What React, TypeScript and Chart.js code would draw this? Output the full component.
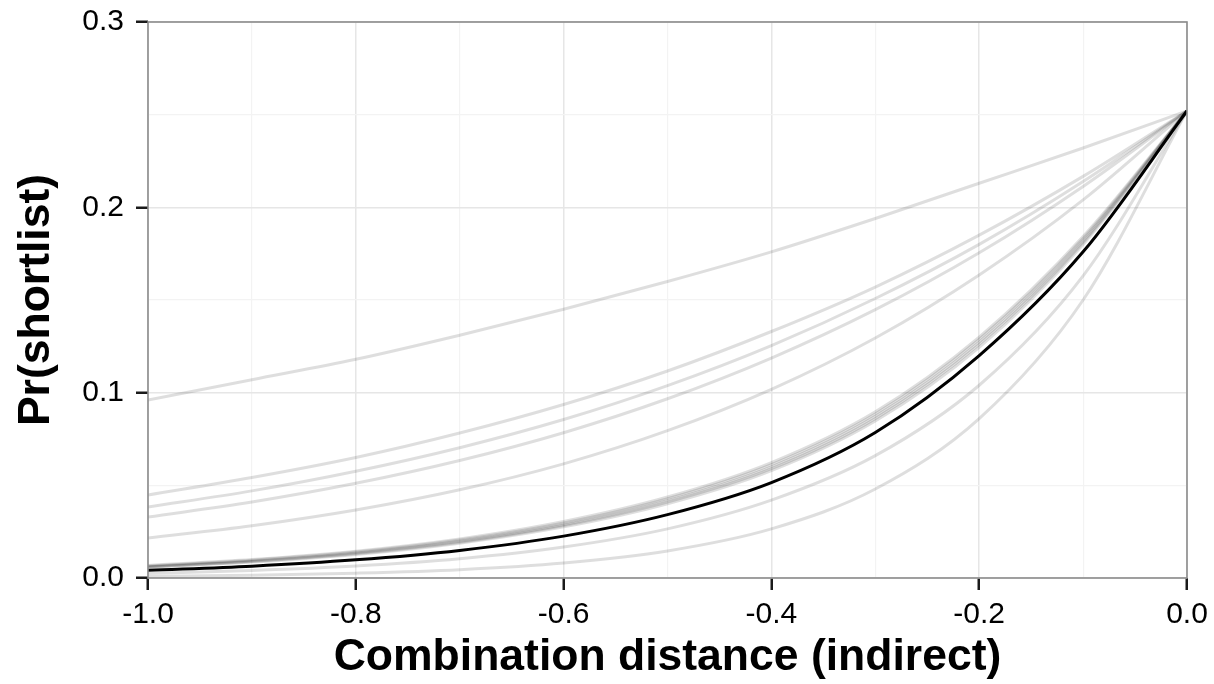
import React, { useEffect, useRef } from "react";
import { Chart, registerables } from "chart.js";

Chart.register(...registerables);

const xValues = [-1.0, -0.9, -0.8, -0.7, -0.6, -0.5, -0.4, -0.3, -0.2, -0.1, 0.0];

// Highlighted (black) curve
const mainCurve = [0.0042, 0.0064, 0.0098, 0.0149, 0.0226, 0.0342, 0.0515, 0.0785, 0.120, 0.176, 0.252];

// Grey curves
const greyTop = [0.096, 0.107, 0.118, 0.131, 0.145, 0.160, 0.176, 0.194, 0.213, 0.232, 0.252];
const greyB = [0.0448, 0.0542, 0.065, 0.0782, 0.0936, 0.1117, 0.133, 0.157, 0.185, 0.2167, 0.252];
const greyC = [0.0383, 0.047, 0.0576, 0.0703, 0.0855, 0.1038, 0.1254, 0.1508, 0.180, 0.2139, 0.252];
const greyD = [0.0329, 0.041, 0.0511, 0.0634, 0.0784, 0.0967, 0.1187, 0.1448, 0.1755, 0.2113, 0.252];
const greyE = [0.0216, 0.0282, 0.0367, 0.0476, 0.0616, 0.0795, 0.1018, 0.1295, 0.1635, 0.204, 0.252];
const bundle1 = [0.0058, 0.0086, 0.0127, 0.0188, 0.0276, 0.0401, 0.058, 0.0848, 0.1245, 0.18, 0.252];
const bundle2 = [0.006, 0.0089, 0.0131, 0.0193, 0.0283, 0.041, 0.059, 0.086, 0.126, 0.181, 0.252];
const bundle3 = [0.0062, 0.0092, 0.0135, 0.0198, 0.0289, 0.0418, 0.06, 0.0872, 0.1273, 0.182, 0.252];
const bundle4 = [0.0065, 0.0096, 0.014, 0.0205, 0.0297, 0.0428, 0.0612, 0.0885, 0.1288, 0.1832, 0.252];
const bundle5 = [0.0068, 0.01, 0.0145, 0.0211, 0.0305, 0.0437, 0.0623, 0.0897, 0.13, 0.1842, 0.252];
const greyF = [0.0025, 0.0041, 0.0065, 0.0104, 0.0167, 0.0265, 0.042, 0.066, 0.104, 0.163, 0.252];
const greyG = [0.0009, 0.0015, 0.0026, 0.0045, 0.0081, 0.0146, 0.0265, 0.048, 0.086, 0.15, 0.252];

const greySeries = [greyTop, greyB, greyC, greyD, greyE, bundle1, bundle2, bundle3, bundle4, bundle5, greyF, greyG];

const xTitle = "Combination distance (indirect)";
const yTitle = "Pr(shortlist)";

const FONT = "'Liberation Sans', Arial, Helvetica, sans-serif";

const toPoints = (vals: number[]) => xValues.map((x, i) => ({ x, y: vals[i] }));

const panelBorder = {
  id: "panelBorder",
  afterDatasetsDraw(chart: any) {
    const { ctx, chartArea } = chart;
    const { left, top, right, bottom } = chartArea;
    ctx.save();
    ctx.strokeStyle = "#8c8c8c";
    ctx.lineWidth = 1.6;
    ctx.strokeRect(left, top, right - left, bottom - top);
    ctx.restore();
  },
};

const isMajorX = (v: number) => Math.round(v * 10) % 2 === 0;
const isMajorY = (v: number) => Math.round(v * 100) % 10 === 0;
const fmt = (v: number) => (Math.abs(v) < 1e-9 ? "0.0" : v.toFixed(1));

export default function App() {
  const ref = useRef<HTMLCanvasElement | null>(null);

  useEffect(() => {
    if (!ref.current) return;
    const datasets: any[] = [
      {
        data: toPoints(mainCurve),
        borderColor: "#000000",
        borderWidth: 3,
        pointRadius: 0,
        cubicInterpolationMode: "monotone",
      },
      ...greySeries.map((s) => ({
        data: toPoints(s),
        borderColor: "rgba(0,0,0,0.13)",
        borderWidth: 3,
        pointRadius: 0,
        cubicInterpolationMode: "monotone",
      })),
    ];

    const chart = new Chart(ref.current, {
      type: "line",
      data: { datasets },
      options: {
        animation: false,
        responsive: false,
        events: [],
        layout: { padding: { left: 0, top: 22, right: 27, bottom: 0 } },
        plugins: { legend: { display: false }, tooltip: { enabled: false } },
        scales: {
          x: {
            type: "linear",
            min: -1,
            max: 0,
            afterFit: (scale: any) => {
              scale.height = 106;
              scale.paddingLeft = 0;
              scale.paddingRight = 0;
            },
            border: { display: false },
            grid: {
              color: (c: any) => (isMajorX(c.tick.value) ? "#e6e6e6" : "#f3f3f3"),
              lineWidth: (c: any) => (isMajorX(c.tick.value) ? 1.5 : 1.2),
              tickColor: (c: any) => (isMajorX(c.tick.value) ? "#1a1a1a" : "rgba(0,0,0,0)"),
              tickWidth: 2.5,
              tickLength: 12,
            },
            ticks: {
              stepSize: 0.1,
              autoSkip: false,
              maxRotation: 0,
              padding: 7,
              color: "#000000",
              font: { family: FONT, size: 30 },
              callback: (v: any) => (isMajorX(Number(v)) ? fmt(Number(v)) : ""),
            },
            title: {
              display: true,
              text: xTitle,
              color: "#000000",
              font: { family: FONT, size: 44.5, weight: "bold" },
              padding: { top: 0, bottom: 0 },
            },
          },
          y: {
            type: "linear",
            min: 0,
            max: 0.3,
            afterFit: (scale: any) => {
              scale.width = 148;
              scale.paddingTop = 0;
              scale.paddingBottom = 0;
            },
            border: { display: false },
            grid: {
              color: (c: any) => (isMajorY(c.tick.value) ? "#e6e6e6" : "#f3f3f3"),
              lineWidth: (c: any) => (isMajorY(c.tick.value) ? 1.5 : 1.2),
              tickColor: (c: any) => (isMajorY(c.tick.value) ? "#1a1a1a" : "rgba(0,0,0,0)"),
              tickWidth: 2.5,
              tickLength: 12,
            },
            ticks: {
              stepSize: 0.05,
              autoSkip: false,
              padding: 12,
              color: "#000000",
              font: { family: FONT, size: 30 },
              callback: (v: any) => (isMajorY(Number(v)) ? fmt(Number(v)) : ""),
            },
            title: {
              display: true,
              text: yTitle,
              color: "#000000",
              font: { family: FONT, size: 44.5, weight: "bold" },
              padding: { top: 10, bottom: 0 },
            },
          },
        },
      },
      plugins: [panelBorder],
    } as any);

    return () => chart.destroy();
  }, []);

  return (
    <div style={{ position: "fixed", left: 0, top: 0, width: 1214, height: 684, background: "#ffffff" }}>
      <canvas ref={ref} width={1214} height={684} style={{ display: "block" }} />
    </div>
  );
}
